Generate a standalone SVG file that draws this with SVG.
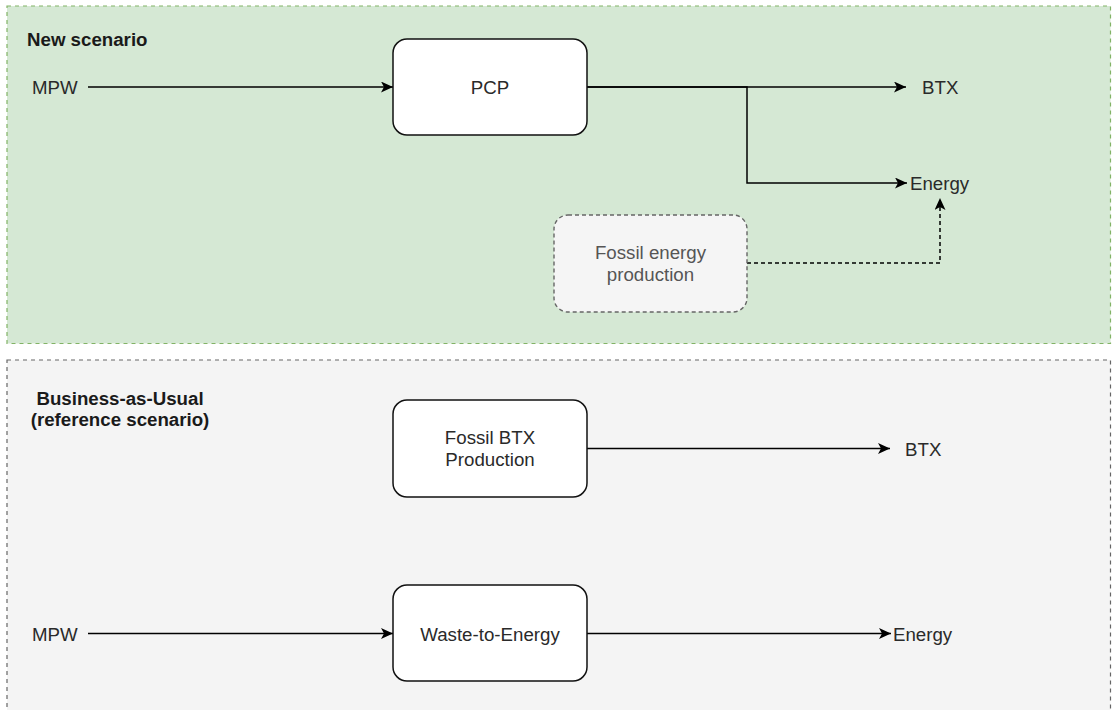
<svg xmlns="http://www.w3.org/2000/svg" width="1112" height="710" viewBox="0 0 1112 710">
  <defs>
    <style>
      text { font-family: "Liberation Sans", Arial, Helvetica, sans-serif; font-size: 18.7px; fill: #2a2a2a; }
      .bold { font-weight: bold; fill: #1a1a1a; }
      .mid { text-anchor: middle; }
      .box { fill: #ffffff; stroke: #111; stroke-width: 1.5; }
      .ghost { fill: #f5f5f5; stroke: #666; stroke-width: 1.4; stroke-dasharray: 4 3; }
      .ghost-text { fill: #555; }
      .edge { fill: none; stroke: #000; stroke-width: 1.5; }
      .dashed { stroke-dasharray: 4 3; }
    </style>
    <marker id="arrow" markerUnits="userSpaceOnUse" markerWidth="14" markerHeight="12" refX="12" refY="5.5" orient="auto">
      <path d="M0,0 L12,5.5 L0,11 L3,5.5 Z" fill="#000"/>
    </marker>
  </defs>

  <g id="container-new">
    <rect x="7" y="6" width="1103.5" height="337.5" fill="#d5e8d4" stroke="#82b366" stroke-width="1.2" stroke-dasharray="4 4"/>
    <text class="bold" x="27" y="46">New scenario</text>
  </g>
  <g id="container-bau">
    <rect x="7" y="360" width="1103.5" height="370" fill="#f4f4f4" stroke="#666" stroke-width="1.2" stroke-dasharray="4 4"/>
    <text class="bold mid" x="120" y="405">Business-as-Usual</text>
    <text class="bold mid" x="120" y="426">(reference scenario)</text>
  </g>

  <g id="connectors">
    <path class="edge" d="M88,87 H393" marker-end="url(#arrow)"/>
    <path class="edge" d="M587,87 H906" marker-end="url(#arrow)"/>
    <path class="edge" d="M587,87 H747 V183 H907" marker-end="url(#arrow)"/>
    <path class="edge dashed" d="M747,263 H940 V198" marker-end="url(#arrow)"/>
    <path class="edge" d="M587,448.5 H890" marker-end="url(#arrow)"/>
    <path class="edge" d="M88,633.5 H393" marker-end="url(#arrow)"/>
    <path class="edge" d="M587,633.5 H891" marker-end="url(#arrow)"/>
  </g>

  <g id="mpw-top"><text x="32" y="94">MPW</text></g>
  <g id="pcp">
    <rect class="box" x="393" y="39" width="194" height="96" rx="14"/>
    <text class="mid" x="490" y="94">PCP</text>
  </g>
  <g id="btx-top"><text x="922" y="94">BTX</text></g>
  <g id="energy-top"><text x="910" y="190">Energy</text></g>
  <g id="fossil-energy">
    <rect class="ghost" x="554" y="215" width="193" height="97" rx="14"/>
    <text class="mid ghost-text" x="650.5" y="259">Fossil energy</text>
    <text class="mid ghost-text" x="650.5" y="281">production</text>
  </g>

  <g id="fossil-btx">
    <rect class="box" x="393" y="400" width="194" height="97" rx="14"/>
    <text class="mid" x="490" y="444">Fossil BTX</text>
    <text class="mid" x="490" y="466">Production</text>
  </g>
  <g id="btx-bottom"><text x="905" y="456">BTX</text></g>
  <g id="mpw-bottom"><text x="32" y="641">MPW</text></g>
  <g id="waste-to-energy">
    <rect class="box" x="393" y="585" width="194" height="96" rx="14"/>
    <text class="mid" x="490" y="641">Waste-to-Energy</text>
  </g>
  <g id="energy-bottom"><text x="893" y="641">Energy</text></g>
</svg>
